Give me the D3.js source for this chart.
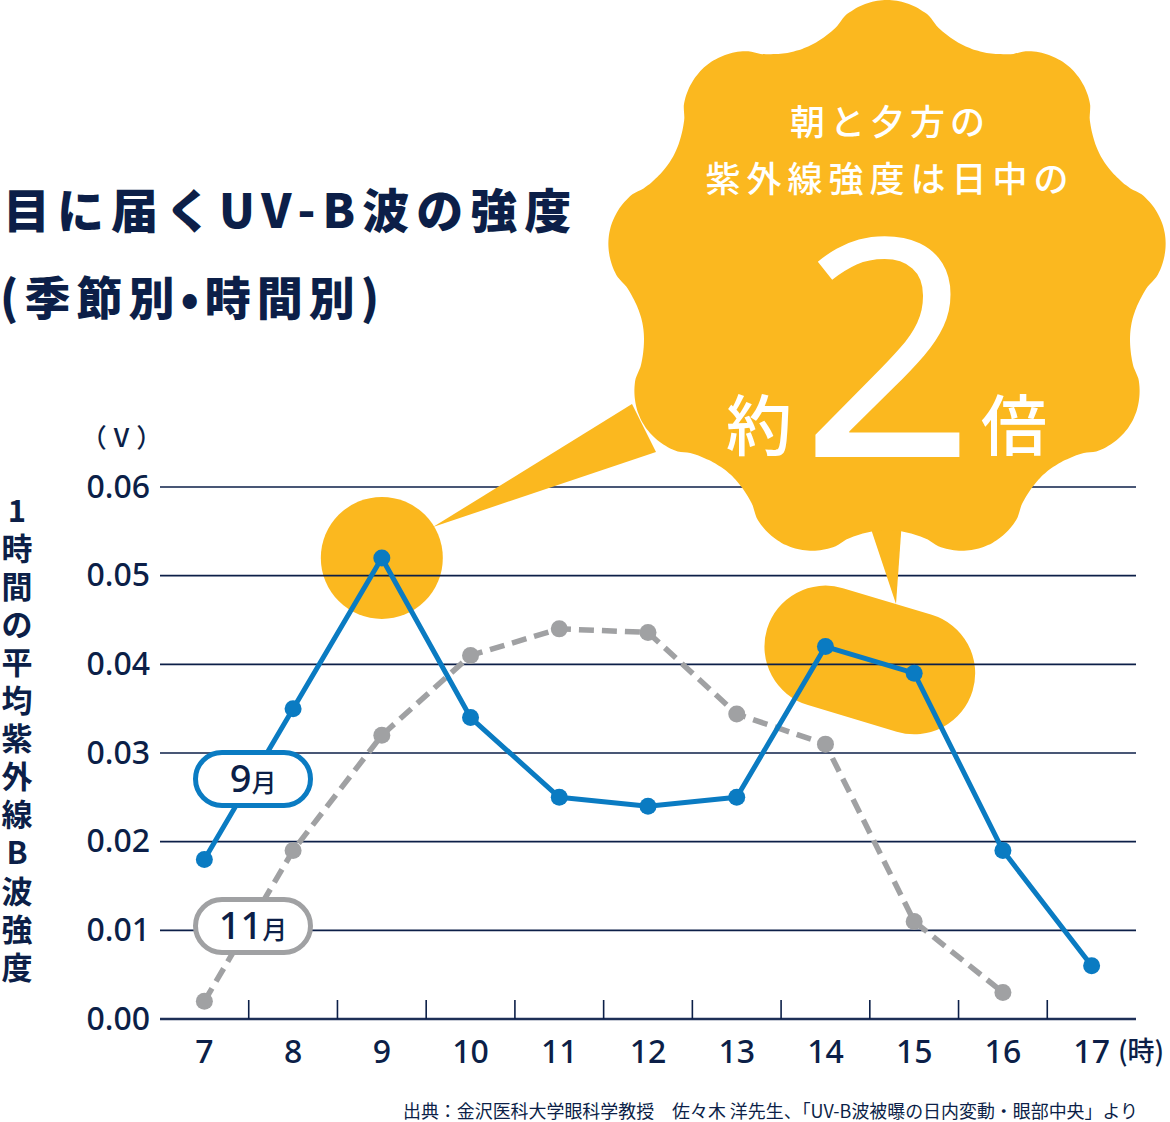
<!DOCTYPE html>
<html>
<head>
<meta charset="utf-8">
<script src="https://cdn.jsdelivr.net/npm/d3@7"></script>
<style>
  body { margin: 0; background: #fff; }
</style>
</head>
<body>
<script>
// data
const hours = ["7", "8", "9", "10", "11", "12", "13", "14", "15", "16", "17"];
const september = [0.018, 0.035, 0.052, 0.034, 0.025, 0.024, 0.025, 0.042, 0.039, 0.019, 0.006];
const november = [0.002, 0.019, 0.032, 0.041, 0.044, 0.0436, 0.0344, 0.031, 0.011, 0.003];
const yTicks = [0, 0.01, 0.02, 0.03, 0.04, 0.05, 0.06];
const yTitle = ["1", "時", "間", "の", "平", "均", "紫", "外", "線", "B", "波", "強", "度"];
const peakHour = "9";
const peakPair = ["14", "15"];

const navy = "#0c1f48";
const blue = "#0a7bc2";
const grey = "#a0a1a3";
const yellow = "#fbb81f";
const jp = "'Noto Sans CJK JP', sans-serif";
const num = "'Noto Sans', sans-serif";

const svg = d3.select("body").append("svg")
  .attr("width", 1170)
  .attr("height", 1122)
  .style("display", "block");

const x = d3.scaleBand().domain(hours).range([160, 1136]);
const y = d3.scaleLinear().domain([0, 0.06]).range([1019, 487]);
const cx = h => x(h) + x.bandwidth() / 2;

// title
svg.append("text")
  .attr("x", 3).attr("y", 228)
  .attr("font-family", jp).attr("font-weight", 900)
  .attr("font-size", 47).attr("letter-spacing", 7)
  .attr("fill", navy)
  .text("目に届くUV-B波の強度");

svg.append("text")
  .attr("x", 0).attr("y", 315)
  .attr("font-family", jp).attr("font-weight", 900)
  .attr("font-size", 46).attr("letter-spacing", 6)
  .attr("fill", navy)
  .text("(季節別•時間別)");

// highlight shapes behind the grid
const sepByHour = new Map(hours.map((h, i) => [h, september[i]]));

svg.append("circle")
  .attr("cx", cx(peakHour))
  .attr("cy", y(sepByHour.get(peakHour)))
  .attr("r", 61)
  .attr("fill", yellow);

svg.append("line")
  .attr("x1", cx(peakPair[0])).attr("y1", y(sepByHour.get(peakPair[0])))
  .attr("x2", cx(peakPair[1])).attr("y2", y(sepByHour.get(peakPair[1])))
  .attr("stroke", yellow)
  .attr("stroke-width", 122)
  .attr("stroke-linecap", "round");

// grid lines
svg.append("g").selectAll("line")
  .data(yTicks.filter(d => d > 0))
  .join("line")
  .attr("x1", 160).attr("x2", 1136)
  .attr("y1", d => y(d)).attr("y2", d => y(d))
  .attr("stroke", navy)
  .attr("stroke-width", 1.6);

// y axis labels
const yAxis = svg.append("g")
  .attr("transform", "translate(150,0)")
  .call(d3.axisLeft(y).tickValues(yTicks).tickFormat(d3.format(".2f")).tickSize(0).tickPadding(0));
yAxis.select(".domain").remove();
yAxis.selectAll("text")
  .attr("font-family", num).attr("font-weight", 500)
  .attr("font-size", 32).attr("fill", navy);

svg.append("text")
  .attr("x", 125).attr("y", 447)
  .attr("text-anchor", "middle")
  .attr("font-family", jp).attr("font-weight", 500)
  .attr("font-size", 26).attr("letter-spacing", 7)
  .attr("fill", navy)
  .text("（V）");

// vertical y title
svg.append("g").selectAll("text")
  .data(yTitle)
  .join("text")
  .attr("x", 17)
  .attr("y", (d, i) => 508 + i * 38.1)
  .attr("text-anchor", "middle")
  .attr("dominant-baseline", "central")
  .attr("font-family", jp).attr("font-weight", 700)
  .attr("font-size", 31).attr("fill", navy)
  .text(d => d);

// x axis
svg.append("line")
  .attr("x1", 160).attr("x2", 1136)
  .attr("y1", y(0)).attr("y2", y(0))
  .attr("stroke", "#1d2f57")
  .attr("stroke-width", 2.6);

svg.append("g").selectAll("line")
  .data(hours.slice(1))
  .join("line")
  .attr("x1", d => x(d)).attr("x2", d => x(d))
  .attr("y1", y(0) - 19).attr("y2", y(0))
  .attr("stroke", navy)
  .attr("stroke-width", 1.6);

const xAxis = svg.append("g")
  .attr("transform", `translate(0,${y(0)})`)
  .call(d3.axisBottom(x).tickSize(0).tickPadding(21));
xAxis.select(".domain").remove();
xAxis.selectAll("text")
  .attr("font-family", num).attr("font-weight", 500)
  .attr("font-size", 32).attr("fill", navy);

svg.append("text")
  .attr("x", 1141).attr("y", 1061)
  .attr("text-anchor", "middle")
  .attr("font-family", jp).attr("font-weight", 500)
  .attr("font-size", 27).attr("fill", navy)
  .text("(時)");

// series
const line = d3.line().x(d => cx(d.h)).y(d => y(d.v));
const novData = november.map((v, i) => ({ h: hours[i], v }));
const sepData = september.map((v, i) => ({ h: hours[i], v }));

svg.append("path")
  .datum(novData)
  .attr("d", line)
  .attr("fill", "none")
  .attr("stroke", grey)
  .attr("stroke-width", 5.5)
  .attr("stroke-dasharray", "15 8");

svg.append("g").selectAll("circle")
  .data(novData)
  .join("circle")
  .attr("cx", d => cx(d.h)).attr("cy", d => y(d.v))
  .attr("r", 8.5)
  .attr("fill", grey);

svg.append("path")
  .datum(sepData)
  .attr("d", line)
  .attr("fill", "none")
  .attr("stroke", blue)
  .attr("stroke-width", 5)
  .attr("stroke-linejoin", "round");

svg.append("g").selectAll("circle")
  .data(sepData)
  .join("circle")
  .attr("cx", d => cx(d.h)).attr("cy", d => y(d.v))
  .attr("r", 8.5)
  .attr("fill", blue);

// month labels
const labels = [
  { num: "9", cy: 779, color: blue },
  { num: "11", cy: 926, color: grey }
];
const lg = svg.append("g").selectAll("g")
  .data(labels)
  .join("g")
  .attr("transform", d => `translate(253,${d.cy})`);
lg.append("rect")
  .attr("x", -57.5).attr("y", -26.5)
  .attr("width", 115).attr("height", 53)
  .attr("rx", 26.5)
  .attr("fill", "#fff")
  .attr("stroke", d => d.color)
  .attr("stroke-width", 5);
const lt = lg.append("text")
  .attr("y", 13)
  .attr("text-anchor", "middle")
  .attr("fill", navy);
lt.append("tspan")
  .attr("font-family", num).attr("font-weight", 500)
  .attr("font-size", 38)
  .text(d => d.num);
lt.append("tspan")
  .attr("font-family", jp).attr("font-weight", 500)
  .attr("font-size", 25)
  .text("月");

// callout bubble
const bx = 887, by = 282;
const lobes = 9;
const bubblePts = d3.range(0, 360, 1).map(a => {
  const t = a * Math.PI / 180;
  const c = Math.cos(lobes * t);
  const r = 265 + 17 * Math.sign(c) * Math.pow(Math.abs(c), 0.75);
  return [t, r];
});

const bubble = svg.append("g");
bubble.append("polygon")
  .attr("points", [[433, 527], [632, 404], [656, 452]].join(" "))
  .attr("fill", yellow);
bubble.append("polygon")
  .attr("points", [[868, 520], [902, 520], [896, 604]].join(" "))
  .attr("fill", yellow);
bubble.append("path")
  .attr("transform", `translate(${bx},${by})`)
  .attr("d", d3.lineRadial().curve(d3.curveCardinalClosed)(bubblePts))
  .attr("fill", yellow);

bubble.append("text")
  .attr("x", bx + 3).attr("y", 135)
  .attr("text-anchor", "middle")
  .attr("font-family", jp).attr("font-weight", 500)
  .attr("font-size", 35).attr("letter-spacing", 5)
  .attr("fill", "#fff")
  .text("朝と夕方の");
bubble.append("text")
  .attr("x", bx + 3).attr("y", 192)
  .attr("text-anchor", "middle")
  .attr("font-family", jp).attr("font-weight", 500)
  .attr("font-size", 35).attr("letter-spacing", 6)
  .attr("fill", "#fff")
  .text("紫外線強度は日中の");
bubble.append("text")
  .attr("x", 888).attr("y", 457)
  .attr("text-anchor", "middle")
  .attr("font-family", num).attr("font-weight", 400)
  .attr("font-size", 305)
  .attr("fill", "#fff")
  .text("2");
bubble.append("text")
  .attr("x", 759).attr("y", 450)
  .attr("text-anchor", "middle")
  .attr("font-family", jp).attr("font-weight", 500)
  .attr("font-size", 66)
  .attr("fill", "#fff")
  .text("約");
bubble.append("text")
  .attr("x", 1014).attr("y", 450)
  .attr("text-anchor", "middle")
  .attr("font-family", jp).attr("font-weight", 500)
  .attr("font-size", 66)
  .attr("fill", "#fff")
  .text("倍");

// source note
svg.append("text")
  .attr("x", 403).attr("y", 1118)
  .attr("font-family", jp).attr("font-weight", 400)
  .attr("font-size", 18)
  .attr("textLength", 735)
  .attr("lengthAdjust", "spacingAndGlyphs")
  .attr("fill", navy)
  .text("出典：金沢医科大学眼科学教授　佐々木 洋先生、「UV-B波被曝の日内変動・眼部中央」より");
</script>
</body>
</html>
